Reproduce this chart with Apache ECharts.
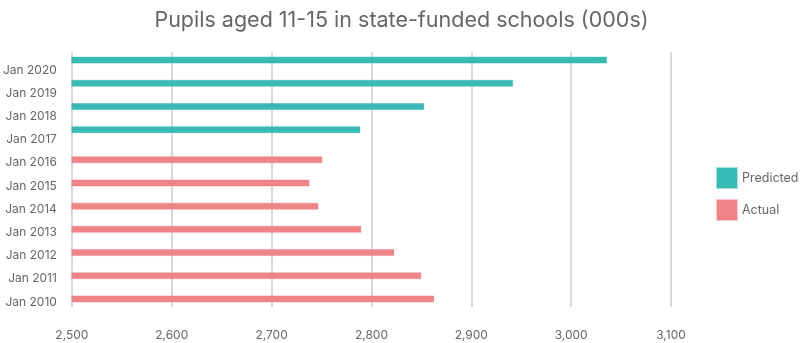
<!DOCTYPE html>
<html>
<head>
<meta charset="utf-8">
<script src="https://cdn.jsdelivr.net/npm/echarts@6/dist/echarts.min.js"></script>
<style>html,body{margin:0;padding:0;background:#fff}#c{width:803px;height:343px}</style>
</head>
<body>
<div id="c"></div>
<script>
var categories = ['Jan 2010','Jan 2011','Jan 2012','Jan 2013','Jan 2014','Jan 2015','Jan 2016','Jan 2017','Jan 2018','Jan 2019','Jan 2020'];
var actual = [2863, 2850, 2823, 2790, 2747, 2738, 2751, null, null, null, null];
var predicted = [null, null, null, null, null, null, null, 2789, 2853, 2942, 3036];
var xTicks = [2500, 3100];

var chart = echarts.init(document.getElementById('c'));
var font = 'Inter, "Noto Sans", sans-serif';
chart.setOption({
  animation: false,
  textStyle: {fontFamily: font},
  title: {
    text: 'Pupils aged 11-15 in state-funded schools (000s)',
    left: 'center', top: 5,
    textStyle: {fontFamily: font, fontSize: 21.5, fontWeight: 'normal', color: '#666'}
  },
  legend: {
    orient: 'vertical', left: 716, top: 167, padding: 0,
    itemWidth: 20, itemHeight: 20, itemGap: 10,
    icon: 'rect',
    data: ['Predicted', 'Actual'],
    textStyle: {fontFamily: font, fontSize: 12.5, color: '#666'}
  },
  grid: {left: 71, top: 52, width: 600, height: 255, containLabel: false},
  xAxis: {
    type: 'value', min: xTicks[0], max: xTicks[1], interval: 100,
    axisLine: {show: false}, axisTick: {show: false},
    splitLine: {lineStyle: {color: '#d9d9d9', width: 2}},
    axisLabel: {
      color: '#666', fontSize: 12, margin: 22,
      formatter: function (v) { return v.toLocaleString('en-US'); }
    }
  },
  yAxis: {
    type: 'category', data: categories,
    axisLine: {show: false}, axisTick: {show: false},
    axisLabel: {color: '#666', fontSize: 12, margin: 15, verticalAlign: 'top', lineHeight: 13}
  },
  series: [
    {name: 'Predicted', type: 'bar', data: predicted, barWidth: 7, barGap: '0%',
     itemStyle: {color: '#3abab6', borderColor: 'rgba(58,186,182,0.45)', borderWidth: 1}},
    {name: 'Actual', type: 'bar', data: actual, barWidth: 7, barGap: '0%',
     itemStyle: {color: '#ef8388', borderColor: 'rgba(239,131,136,0.45)', borderWidth: 1}}
  ]
});
</script>
</body>
</html>
